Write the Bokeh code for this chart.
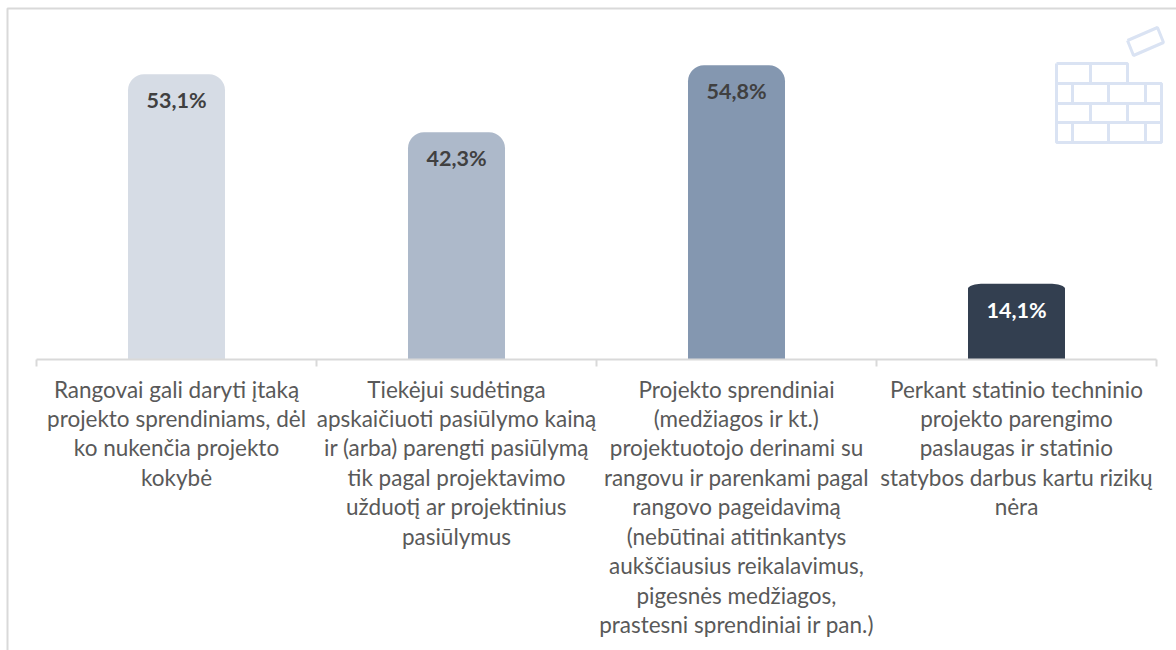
import numpy as np
from bokeh.plotting import figure
from bokeh.models import Range1d, FixedTicker, ColumnDataSource
from bokeh.core.properties import value
from bokeh.embed import file_html
from bokeh.resources import INLINE

categories = [
    "Rangovai gali daryti įtaką\nprojekto sprendiniams, dėl\nko nukenčia projekto\nkokybė",
    "Tiekėjui sudėtinga\napskaičiuoti pasiūlymo kainą\nir (arba) parengti pasiūlymą\ntik pagal projektavimo\nužduotį ar projektinius\npasiūlymus",
    "Projekto sprendiniai\n(medžiagos ir kt.)\nprojektuotojo derinami su\nrangovu ir parenkami pagal\nrangovo pageidavimą\n(nebūtinai atitinkantys\naukščiausius reikalavimus,\npigesnės medžiagos,\nprastesni sprendiniai ir pan.)",
    "Perkant statinio techninio\nprojekto parengimo\npaslaugas ir statinio\nstatybos darbus kartu rizikų\nnėra",
]
values = [53.1, 42.3, 54.8, 14.1]
value_labels = ["53,1%", "42,3%", "54,8%", "14,1%"]
bar_colors = ["#d6dce5", "#adb9ca", "#8497b0", "#333f50"]
value_colors = ["#404040", "#404040", "#404040", "#ffffff"]
positions = [0.5, 1.5, 2.5, 3.5]

PX_PER_UNIT = 5.37
X0, Y0 = 0, 0
W, H = 1176, 650
BAR_W = 97 / 280
AXIS_X, AXIS_Y = 36, 359

p = figure(width=W, height=H, output_backend="svg", toolbar_location=None,
           x_range=Range1d((X0 - AXIS_X) / 280, (X0 + W - AXIS_X) / 280),
           y_range=Range1d(-(Y0 + H - AXIS_Y) / PX_PER_UNIT, (AXIS_Y - Y0) / PX_PER_UNIT),
           min_border=0, min_border_left=0, min_border_right=0,
           min_border_top=0, min_border_bottom=0, margin=0)
p.grid.visible = False
p.outline_line_color = None
p.yaxis.visible = False
ax = p.xaxis[0]
ax.fixed_location = 0
ax.ticker = FixedTicker(ticks=[0, 1, 2, 3, 4])
ax.bounds = (0, 4)
ax.major_label_text_font_size = "0px"
ax.major_label_text_color = None
ax.axis_line_color = "#d9d9d9"
ax.axis_line_width = 2
ax.major_tick_line_color = "#d9d9d9"
ax.major_tick_line_width = 2
ax.major_tick_in = 0
ax.major_tick_out = 7
ax.minor_tick_line_color = None

src = ColumnDataSource(dict(x=positions, top=values, color=bar_colors,
                            label=value_labels, lc=value_colors, cat=categories))
p.vbar(x=positions[:3], top=values[:3], bottom=0, width=BAR_W, fill_color=bar_colors[:3],
       line_color=None, border_radius=(16, 16, 0, 0))
# the short bar has flatter, elliptical corners
t = np.linspace(0, np.pi / 2, 12)
rx, ry = 15 / 280, 5 / PX_PER_UNIT
xl, xr = positions[3] - BAR_W / 2, positions[3] + BAR_W / 2
top = values[3]
bx = [xl] + list(xl + rx - rx * np.cos(t)) + list(xr - rx + rx * np.sin(t)) + [xr]
by = [0] + list(top - ry + ry * np.sin(t)) + list(top - ry + ry * np.cos(t)) + [0]
p.patch(bx, by, fill_color=bar_colors[3], line_color=None)

p.text(x="x", y="top", text="label", text_color="lc", text_font=value("Lato"),
       text_font_style="bold", text_font_size="21.5px", text_align="center",
       text_baseline="middle", y_offset=26, source=src)
p.text(x="x", y=0, text="cat", text_color="#595959", text_font=value("Lato"),
       text_font_size="22.5px", text_align="center", text_baseline="top",
       text_line_height=1.09, y_offset=16, source=src)

# page frame and decorative brick-wall icon, in page pixels
p.extra_x_ranges["px"] = Range1d(X0, X0 + W)
p.extra_y_ranges["px"] = Range1d(Y0 + H, Y0)
icon_xs = [[1056, 1127, 1127, 1161, 1161, 1056, 1056], [1056, 1161], [1056, 1161], [1056, 1161],
           [1090, 1090], [1072, 1072], [1108, 1108], [1145, 1145], [1090, 1090], [1127, 1127],
           [1072, 1072], [1108, 1108], [1145, 1145], [1127, 1157, 1163, 1133, 1127]]
icon_ys = [[63, 63, 83, 83, 142, 142, 63], [83, 83], [103, 103], [122, 122],
           [63, 83], [83, 103], [83, 103], [83, 103], [103, 122], [103, 122],
           [122, 142], [122, 142], [122, 142], [40, 27, 42, 55, 40]]
p.multi_line(icon_xs, icon_ys, line_color="#dae3f3", line_width=3,
             x_range_name="px", y_range_name="px")
p.multi_line([[7, 7, X0 + W]], [[Y0 + H, 8, 8]], line_color="#d9d9d9", line_width=2,
             x_range_name="px", y_range_name="px")

open("out.html", "w").write(file_html(p, INLINE))
